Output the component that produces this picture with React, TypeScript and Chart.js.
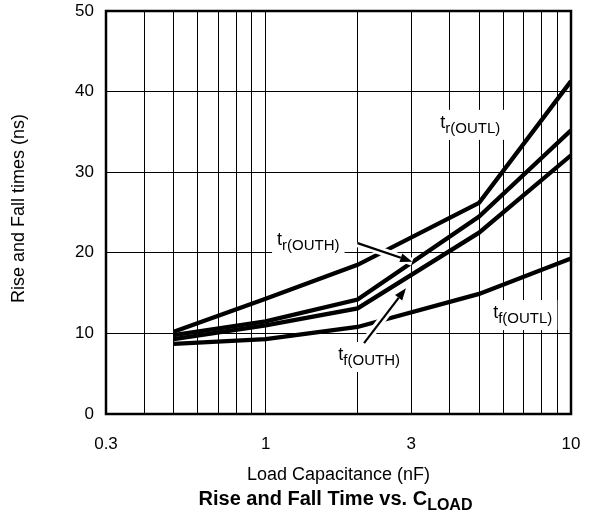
import React, { useEffect, useRef } from 'react';
import { Chart, registerables } from 'chart.js';

Chart.register(...registerables);

// ---- data ----
const capacitanceNF = [0.5, 1, 2, 5, 10];
const trOUTL = [10.2, 14.3, 18.5, 26.2, 41.3];
const trOUTH = [9.8, 11.5, 14.2, 24.5, 35.2];
const tfOUTH = [9.3, 11.0, 13.1, 22.5, 32.1];
const tfOUTL = [8.7, 9.3, 10.8, 14.9, 19.3];

const xGridValues = [0.3, 0.4, 0.5, 0.6, 0.7, 0.8, 0.9, 1, 2, 3, 4, 5, 6, 7, 8, 9, 10];
const xLabelValues = [0.3, 1, 3, 10];
const yMin = 0;
const yMax = 50;
const yStep = 10;

// curve labels: [main, subscript, x (nF), y (ns) of baseline]
const labelMain = ['t', 't', 't', 't'];
const labelSub = ['r(OUTL)', 'r(OUTH)', 'f(OUTH)', 'f(OUTL)'];
const labelX = [3.73, 1.09, 1.73, 5.56];
const labelY = [35.5, 21.0, 6.7, 11.9];

// arrows: from (x,y) -> to (x,y)
const arrowFromX = [2.0, 2.1];
const arrowFromY = [21.2, 8.8];
const arrowToX = [3.02, 2.88];
const arrowToY = [18.9, 15.6];

const FONT = '"Liberation Sans", Arial, Helvetica, sans-serif';
const MAIN_SIZE = 18;
const SUB_SIZE = 15;

function toPoints(ys: number[]) {
  return capacitanceNF.map((x, i) => ({ x, y: ys[i] }));
}

function labelMetrics(ctx: CanvasRenderingContext2D, i: number) {
  ctx.font = `${MAIN_SIZE}px ${FONT}`;
  const wMain = ctx.measureText(labelMain[i]).width;
  ctx.font = `${SUB_SIZE}px ${FONT}`;
  const wSub = ctx.measureText(labelSub[i]).width;
  return { wMain, wSub };
}

const annotationPlugin = {
  id: 'annotations',
  beforeDatasetsDraw(chart: any) {
    const { ctx, chartArea, scales } = chart;
    const xs = scales.x;
    const ys = scales.y;
    ctx.save();
    // white boxes behind labels
    for (let i = 0; i < labelMain.length; i++) {
      const px = xs.getPixelForValue(labelX[i]);
      const py = ys.getPixelForValue(labelY[i]);
      const { wMain, wSub } = labelMetrics(ctx, i);
      const w = wMain + wSub;
      ctx.fillStyle = '#fff';
      ctx.fillRect(px - 5, py - 18, w + 10, 30);
    }
    // frame
    ctx.strokeStyle = '#000';
    ctx.lineWidth = 2.5;
    ctx.strokeRect(chartArea.left, chartArea.top, chartArea.right - chartArea.left, chartArea.bottom - chartArea.top);
    ctx.restore();
  },
  afterDatasetsDraw(chart: any) {
    const { ctx, scales } = chart;
    const xs = scales.x;
    const ys = scales.y;
    ctx.save();
    // arrows
    for (let i = 0; i < arrowFromX.length; i++) {
      const x1 = xs.getPixelForValue(arrowFromX[i]);
      const y1 = ys.getPixelForValue(arrowFromY[i]);
      const x2 = xs.getPixelForValue(arrowToX[i]);
      const y2 = ys.getPixelForValue(arrowToY[i]);
      const ang = Math.atan2(y2 - y1, x2 - x1);
      const headLen = 12;
      const headHalf = 4.5;
      const bx = x2 - headLen * Math.cos(ang);
      const by = y2 - headLen * Math.sin(ang);
      // halo
      ctx.strokeStyle = '#fff';
      ctx.lineWidth = 8;
      ctx.lineCap = 'butt';
      ctx.beginPath();
      ctx.moveTo(x1, y1);
      ctx.lineTo(x2, y2);
      ctx.stroke();
      // shaft
      ctx.strokeStyle = '#000';
      ctx.lineWidth = 2.2;
      ctx.beginPath();
      ctx.moveTo(x1, y1);
      ctx.lineTo(bx, by);
      ctx.stroke();
      // head
      ctx.fillStyle = '#000';
      ctx.beginPath();
      ctx.moveTo(x2, y2);
      ctx.lineTo(bx + headHalf * Math.sin(ang), by - headHalf * Math.cos(ang));
      ctx.lineTo(bx - headHalf * Math.sin(ang), by + headHalf * Math.cos(ang));
      ctx.closePath();
      ctx.fill();
    }
    // label texts
    ctx.fillStyle = '#000';
    ctx.textBaseline = 'alphabetic';
    ctx.textAlign = 'left';
    for (let i = 0; i < labelMain.length; i++) {
      const px = xs.getPixelForValue(labelX[i]);
      const py = ys.getPixelForValue(labelY[i]);
      const { wMain } = labelMetrics(ctx, i);
      ctx.font = `${MAIN_SIZE}px ${FONT}`;
      ctx.fillText(labelMain[i], px, py);
      ctx.font = `${SUB_SIZE}px ${FONT}`;
      ctx.fillText(labelSub[i], px + wMain, py + 5);
    }
    ctx.restore();
  },
  afterDraw(chart: any) {
    const { ctx, chartArea } = chart;
    const cx = (chartArea.left + chartArea.right) / 2;
    ctx.save();
    ctx.fillStyle = '#000';
    ctx.textBaseline = 'middle';
    // x axis title
    ctx.textAlign = 'center';
    ctx.font = `18px ${FONT}`;
    ctx.fillText('Load Capacitance (nF)', cx, 475);
    // main title with subscript
    const mainPart = 'Rise and Fall Time vs. C';
    const subPart = 'LOAD';
    ctx.font = `bold 20px ${FONT}`;
    const w1 = ctx.measureText(mainPart).width;
    ctx.font = `bold 16px ${FONT}`;
    const w2 = ctx.measureText(subPart).width;
    const start = cx - 3 - (w1 + w2) / 2;
    ctx.textAlign = 'left';
    ctx.textBaseline = 'alphabetic';
    ctx.font = `bold 20px ${FONT}`;
    ctx.fillText(mainPart, start, 505);
    ctx.font = `bold 16px ${FONT}`;
    ctx.fillText(subPart, start + w1, 510);
    // y axis title
    ctx.save();
    ctx.translate(19, (chartArea.top + chartArea.bottom) / 2 - 4);
    ctx.rotate(-Math.PI / 2);
    ctx.textAlign = 'center';
    ctx.textBaseline = 'middle';
    ctx.font = `18px ${FONT}`;
    ctx.fillText('Rise and Fall times (ns)', 0, 0);
    ctx.restore();
    ctx.restore();
  },
};

export default function App() {
  const canvasRef = useRef<HTMLCanvasElement | null>(null);

  useEffect(() => {
    const canvas = canvasRef.current;
    if (!canvas) return;
    const lineStyle = {
      borderColor: '#000',
      backgroundColor: '#000',
      borderWidth: 4.3,
      pointRadius: 0,
      pointHoverRadius: 0,
      tension: 0,
      fill: false,
      borderJoinStyle: 'miter' as const,
    };
    const chart = new Chart(canvas, {
      type: 'line',
      data: {
        datasets: [
          { label: 'tr(OUTL)', data: toPoints(trOUTL), ...lineStyle },
          { label: 'tr(OUTH)', data: toPoints(trOUTH), ...lineStyle },
          { label: 'tf(OUTH)', data: toPoints(tfOUTH), ...lineStyle },
          { label: 'tf(OUTL)', data: toPoints(tfOUTL), ...lineStyle },
        ],
      },
      options: {
        responsive: false,
        animation: false,
        events: [],
        layout: { padding: { top: 11, right: 24, left: 0, bottom: 0 } },
        plugins: {
          legend: { display: false },
          title: { display: false },
          tooltip: { enabled: false },
        },
        scales: {
          x: {
            type: 'logarithmic',
            min: 0.3,
            max: 10,
            afterBuildTicks: (scale: any) => {
              scale.ticks = xGridValues.map((v) => ({ value: v }));
            },
            afterFit: (scale: any) => {
              scale.height = 99;
              scale.paddingLeft = 0;
              scale.paddingRight = 0;
            },
            grid: { color: '#000', lineWidth: 1, drawTicks: false },
            border: { display: false },
            ticks: {
              autoSkip: false,
              maxRotation: 0,
              padding: 20,
              color: '#000',
              font: { family: FONT, size: 17 },
              callback: (value: any) => (xLabelValues.includes(Number(value)) ? String(value) : ''),
            },
          },
          y: {
            type: 'linear',
            min: yMin,
            max: yMax,
            afterFit: (scale: any) => {
              scale.width = 106;
              scale.paddingTop = 0;
              scale.paddingBottom = 0;
            },
            grid: { color: '#000', lineWidth: 1, drawTicks: false },
            border: { display: false },
            ticks: {
              stepSize: yStep,
              padding: 12,
              color: '#000',
              font: { family: FONT, size: 17 },
            },
          },
        },
      },
      plugins: [annotationPlugin],
    });
    return () => chart.destroy();
  }, []);

  return (
    <canvas
      ref={canvasRef}
      width={595}
      height={513}
      style={{ position: 'absolute', left: 0, top: 0, width: 595, height: 513 }}
    />
  );
}
